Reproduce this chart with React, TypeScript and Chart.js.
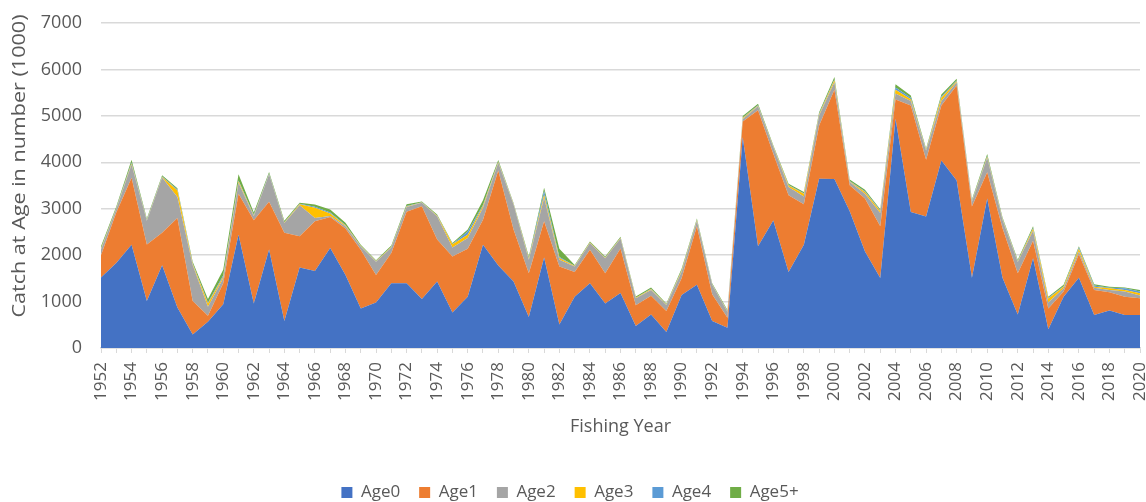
import React, { useEffect, useRef } from "react";
import { Chart, registerables } from "chart.js";

Chart.register(...registerables);

const years = [
  "1952", "1953", "1954", "1955", "1956", "1957", "1958", "1959", "1960", "1961",
  "1962", "1963", "1964", "1965", "1966", "1967", "1968", "1969", "1970", "1971",
  "1972", "1973", "1974", "1975", "1976", "1977", "1978", "1979", "1980", "1981",
  "1982", "1983", "1984", "1985", "1986", "1987", "1988", "1989", "1990", "1991",
  "1992", "1993", "1994", "1995", "1996", "1997", "1998", "1999", "2000", "2001",
  "2002", "2003", "2004", "2005", "2006", "2007", "2008", "2009", "2010", "2011",
  "2012", "2013", "2014", "2015", "2016", "2017", "2018", "2019", "2020",
];

const age0 = [
  1520, 1830, 2225, 1010, 1780, 870, 290, 565, 940, 2440,
  960, 2120, 580, 1735, 1660, 2155, 1575, 850, 980, 1395,
  1395, 1055, 1430, 765, 1105, 2225, 1775, 1430, 670, 1950,
  505, 1105, 1395, 960, 1185, 475, 720, 345, 1140, 1360,
  580, 435, 4540, 2190, 2745, 1635, 2225, 3645, 3640, 2945,
  2080, 1510, 4940, 2930, 2835, 4040, 3610, 1515, 3220, 1515,
  720, 1935, 405, 1105, 1515, 710, 810, 710, 710,
];

const age1 = [
  480, 1090, 1440, 1220, 700, 1930, 720, 130, 455, 880,
  1790, 1030, 1900, 670, 1070, 665, 1000, 1265, 590, 650,
  1540, 2000, 905, 1205, 1035, 540, 2050, 1120, 940, 780,
  1250, 530, 720, 650, 960, 445, 405, 450, 360, 1265,
  580, 215, 340, 2930, 1440, 1655, 870, 1150, 1920, 560,
  1140, 1110, 410, 2295, 1220, 1185, 2045, 1535, 565, 1070,
  890, 375, 445, 110, 505, 540, 390, 395, 360,
];

const age2 = [
  120, 75, 290, 510, 1190, 450, 780, 195, 110, 240,
  90, 590, 215, 670, 70, 25, 50, 70, 290, 120,
  100, 75, 505, 195, 230, 255, 165, 540, 290, 505,
  145, 120, 145, 325, 215, 150, 125, 130, 145, 110,
  200, 130, 55, 85, 145, 180, 170, 215, 165, 72,
  105, 290, 130, 95, 200, 95, 70, 100, 315, 180,
  240, 215, 130, 70, 60, 50, 50, 110, 60,
];

const age3 = [
  20, 10, 20, 10, 15, 140, 20, 70, 30, 30,
  15, 10, 10, 20, 220, 50, 15, 10, 10, 10,
  15, 5, 10, 70, 70, 40, 15, 10, 20, 60,
  40, 10, 10, 10, 10, 10, 15, 10, 20, 15,
  10, 10, 20, 15, 10, 30, 60, 20, 40, 10,
  35, 40, 85, 40, 10, 70, 20, 10, 20, 15,
  15, 45, 85, 35, 60, 20, 35, 35, 50,
];

const age4 = [
  10, 10, 20, 10, 10, 25, 10, 20, 30, 20,
  15, 10, 5, 10, 20, 25, 10, 5, 5, 5,
  10, 5, 5, 5, 70, 20, 10, 5, 15, 85,
  20, 5, 5, 5, 5, 5, 10, 5, 10, 10,
  5, 5, 10, 10, 5, 10, 10, 15, 20, 10,
  15, 15, 45, 30, 5, 25, 15, 10, 15, 10,
  10, 15, 15, 10, 25, 25, 15, 35, 35,
];

const age5 = [
  40, 35, 60, 30, 25, 25, 40, 75, 120, 130,
  50, 30, 30, 25, 50, 65, 50, 25, 15, 30,
  35, 15, 20, 20, 40, 100, 35, 20, 35, 70,
  180, 20, 20, 20, 20, 25, 30, 20, 30, 30,
  20, 25, 30, 30, 20, 30, 25, 35, 50, 30,
  35, 25, 70, 50, 25, 45, 40, 30, 45, 25,
  25, 35, 25, 30, 25, 30, 20, 20, 35,
];

const seriesNames = ["Age0", "Age1", "Age2", "Age3", "Age4", "Age5+"];
const seriesColors = ["#4472C4", "#ED7D31", "#A5A5A5", "#FFC000", "#5B9BD5", "#70AD47"];
const yTitle = "Catch at Age in number (1000)";
const xTitle = "Fishing Year";

const FONT = "'Open Sans', 'DejaVu Sans', sans-serif";
const TEXT = "#595959";

const yTitlePlugin = {
  id: "yTitlePlugin",
  afterDraw(chart: any) {
    const ctx = chart.ctx;
    ctx.save();
    ctx.font = `18px ${FONT}`;
    const w = ctx.measureText(yTitle).width;
    const sx = 303 / w;
    ctx.translate(20, 166);
    ctx.rotate(-Math.PI / 2);
    ctx.scale(sx, 1);
    ctx.fillStyle = TEXT;
    ctx.textAlign = "center";
    ctx.textBaseline = "middle";
    ctx.fillText(yTitle, 0, 0);
    ctx.restore();
  },
};

export default function App() {
  const ref = useRef<HTMLCanvasElement | null>(null);

  useEffect(() => {
    if (!ref.current) return;
    const all = [age0, age1, age2, age3, age4, age5];
    const chart = new Chart(ref.current, {
      type: "line",
      data: {
        labels: years,
        datasets: all.map((d, i) => ({
          label: seriesNames[i],
          data: d,
          backgroundColor: seriesColors[i],
          borderColor: seriesColors[i],
          borderWidth: 0,
          fill: i === 0 ? "origin" : "-1",
          pointRadius: 0,
          tension: 0,
        })),
      },
      options: {
        animation: false,
        responsive: true,
        maintainAspectRatio: false,
        layout: { padding: { top: 23, right: 6, left: 0, bottom: -9 } },
        plugins: {
          tooltip: { enabled: false },
          legend: {
            position: "bottom",
            labels: {
              boxWidth: 11,
              boxHeight: 11,
              padding: 19,
              color: TEXT,
              font: { family: FONT, size: 17 },
            },
          },
        },
        scales: {
          x: {
            type: "category",
            offset: false,
            grid: {
              display: true,
              drawOnChartArea: false,
              drawTicks: true,
              tickLength: 5,
              color: "#d9d9d9",
              lineWidth: 1,
            },
            border: { display: true, color: "#d9d9d9", width: 1.5 },
            ticks: {
              autoSkip: false,
              maxRotation: 90,
              minRotation: 90,
              padding: 9,
              color: TEXT,
              font: { family: FONT, size: 17 },
              callback: (_v: any, i: number) => (i % 2 === 0 ? years[i] : ""),
            },
            title: {
              display: true,
              text: xTitle,
              color: TEXT,
              font: { family: FONT, size: 18 },
              padding: { top: 4, bottom: 27 },
            },
            afterFit: (s: any) => {
              s.height = 117;
              s.paddingLeft = 0;
              s.paddingRight = 0;
            },
          },
          y: {
            stacked: true,
            min: 0,
            max: 7000,
            ticks: {
              stepSize: 1000,
              padding: 19,
              color: TEXT,
              font: { family: FONT, size: 18 },
              callback: (v: any) => String(v),
            },
            grid: { color: "#d9d9d9", lineWidth: 1.5, drawTicks: false },
            border: { display: false },
            afterFit: (s: any) => {
              s.width = 101;
              s.paddingTop = 0;
              s.paddingBottom = 0;
            },
          },
        },
      },
      plugins: [yTitlePlugin],
    });
    return () => chart.destroy();
  }, []);

  return (
    <div style={{ position: "absolute", left: 0, top: 0, width: 1146, height: 502 }}>
      <canvas ref={ref} />
    </div>
  );
}
